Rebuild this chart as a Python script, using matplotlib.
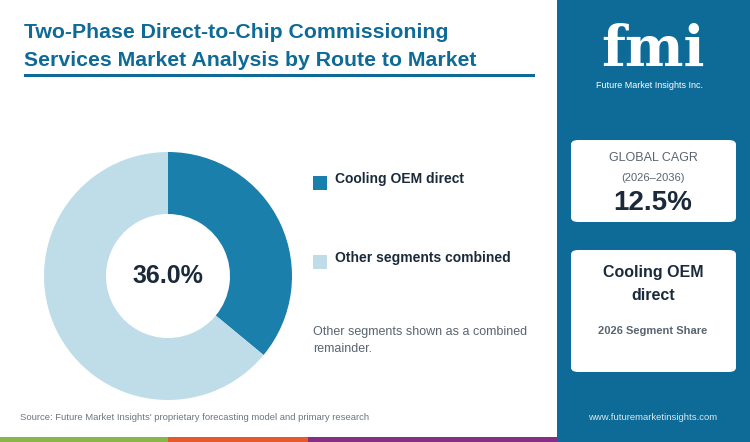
import matplotlib
matplotlib.use("Agg")
import matplotlib.pyplot as plt
from matplotlib.patches import Rectangle, FancyBboxPatch

plt.rcParams['font.family'] = ['Liberation Sans', 'DejaVu Sans']

segments = ["Cooling OEM direct", "Other segments combined"]
shares = [36.0, 64.0]
colors = ["#1a7fab", "#bfdde9"]
cagr = "12.5%"

W, H = 750, 442
fig = plt.figure(figsize=(7.5, 4.42), dpi=100)
fig.patch.set_facecolor("white")

def fx(x): return x / W
def fy(y): return 1 - y / H

def rect(x0, y0, x1, y1, color, **kw):
    fig.patches.append(Rectangle((fx(x0), fy(y1)), fx(x1) - fx(x0), fy(y0) - fy(y1),
                                 transform=fig.transFigure, facecolor=color, edgecolor="none", **kw))

def text(x, y, s, **kw):
    fig.text(fx(x), fy(y), s, **kw)

# right panel
rect(557, 0, 750, 442, "#0e6a96")
# bottom bar
rect(0, 437, 168, 442, "#8ab54a")
rect(168, 437, 308, 442, "#e5592b")
rect(308, 437, 557, 442, "#862d84")

# title
text(24, 33, "Two-Phase Direct-to-Chip Commissioning", fontsize=15.3, fontweight="bold", color="#0e6a96", va="center")
text(24, 60, "Services Market Analysis by Route to Market", fontsize=15.3, fontweight="bold", color="#0e6a96", va="center")
rect(24, 74, 535, 77, "#0e6a96")

# donut
R = 124
ax = fig.add_axes([fx(168 - R), fy(276 + R), 2 * R / W, 2 * R / H])
ax.pie(shares, colors=colors, startangle=90, counterclock=False,
       wedgeprops=dict(width=0.5, edgecolor="none"))
ax.set_xlim(-1, 1); ax.set_ylim(-1, 1)
ax.set_aspect("equal")
ax.text(0, 0, f"{shares[0]:.1f}%", ha="center", va="center", fontsize=18, fontweight="bold", color="#1b2a3a")

# legend
for (y, lab, c) in [(182, segments[0], colors[0]), (261, segments[1], colors[1])]:
    rect(313, y - 6, 327, y + 8, c)
    text(335, y - 3, lab, fontsize=10, fontweight="bold", color="#1b2a3a", va="center")
text(313, 332, "Other segments shown as a combined", fontsize=9, color="#5a6470", va="center")
text(313, 349, "remainder.", fontsize=9, color="#5a6470", va="center")

# source
text(20, 418, "Source: Future Market Insights' proprietary forecasting model and primary research",
     fontsize=6.8, color="#6c7580", va="center")
text(653, 418, "www.futuremarketinsights.com", fontsize=6.8, color="#d8e8f0", va="center", ha="center")

# logo
text(653, 50, "fmi", fontsize=40, fontweight="bold", color="white", ha="center", va="center", family="DejaVu Serif")
text(650, 86, "Future Market Insights Inc.", fontsize=6.5, color="white", ha="center", va="center")

# boxes
for (y0, y1) in [(140, 222), (250, 372)]:
    fig.patches.append(FancyBboxPatch((fx(571), fy(y1)), fx(736) - fx(571), fy(y0) - fy(y1),
                                      boxstyle="round,pad=0,rounding_size=0.01",
                                      transform=fig.transFigure, facecolor="white", edgecolor="none"))
text(653, 158, "GLOBAL CAGR", fontsize=9, color="#5a6470", ha="center", va="center")
text(653, 178, "(2026\u20132036)", fontsize=8, color="#5a6470", ha="center", va="center")
text(653, 203, cagr, fontsize=20, fontweight="bold", color="#1b2a3a", ha="center", va="center")
text(653, 272, "Cooling OEM", fontsize=11.5, fontweight="bold", color="#1b2a3a", ha="center", va="center")
text(653, 296, "direct", fontsize=11.5, fontweight="bold", color="#1b2a3a", ha="center", va="center")
text(653, 331, "2026 Segment Share", fontsize=8, fontweight="bold", color="#5a6470", ha="center", va="center")

fig.savefig("out.png", dpi=100)
